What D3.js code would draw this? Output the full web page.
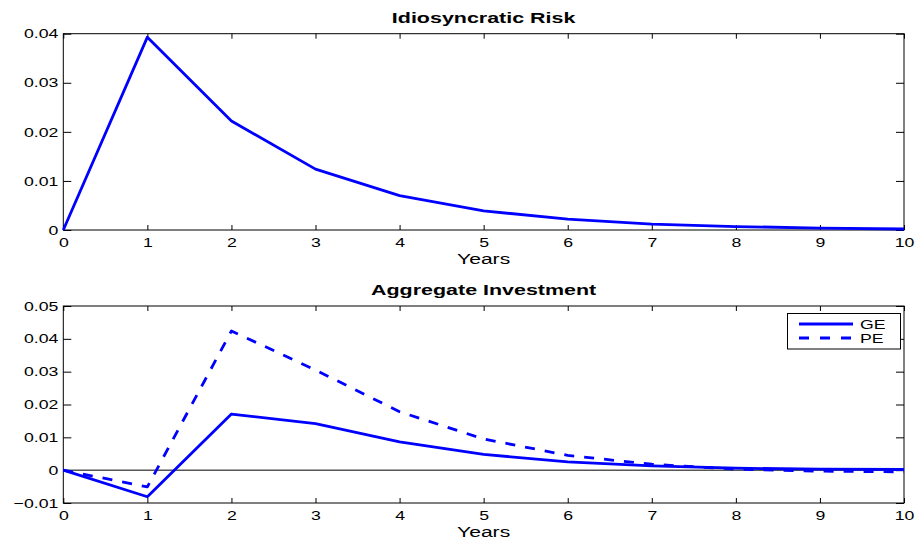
<!DOCTYPE html>
<html>
<head>
<meta charset="utf-8">
<script src="https://cdn.jsdelivr.net/npm/d3@7"></script>
<style>
  body { margin: 0; background: #fff; }
  svg { display: block; font-family: "Liberation Sans", Arial, sans-serif; }
</style>
</head>
<body>
<svg id="chart" width="916" height="539"></svg>
<script>
// data
var years = [0, 1, 2, 3, 4, 5, 6, 7, 8, 9, 10];
var idioRisk = [0, 0.0393, 0.0222, 0.0124, 0.0070, 0.0039, 0.0022, 0.0012, 0.0007, 0.0004, 0.0002];
var investGE = [0, -0.0081, 0.0171, 0.0142, 0.0086, 0.0048, 0.0025, 0.0013, 0.0006, 0.0003, 0.0002];
var investPE = [0, -0.0051, 0.0424, 0.0305, 0.0178, 0.0095, 0.0045, 0.0018, 0.0003, -0.0003, -0.0005];
var topTicks = [0, 0.01, 0.02, 0.03, 0.04];
var bottomTicks = [-0.01, 0, 0.01, 0.02, 0.03, 0.04, 0.05];
var legendNames = ["GE", "PE"];

var svg = d3.select("#chart");
var SX = 1.36;   // picture is stretched horizontally
var BLUE = "#0000ff";

function fmt(d) {
	if (d === 0) return "0";
	return d3.format(".2f")(d);
}

// one matlab style panel
function panel(opt) {
	var g = svg.append("g");
	var x = d3.scaleLinear().domain([0, 10]).range([63.3, 904]);
	var y = d3.scaleLinear().domain(opt.yDomain).range([opt.bottom, opt.top]);

	// bottom axis, ticks inward
	var xa = g.append("g")
		.attr("transform", "translate(0," + opt.bottom + ")")
		.call(d3.axisBottom(x).tickValues(years).tickSizeInner(-5).tickSizeOuter(0).tickPadding(0));
	xa.selectAll("text")
		.attr("y", 17.5)
		.attr("dy", null)
		.attr("transform", "scale(" + SX + ",1)");
	// top mirrored ticks
	g.append("g")
		.attr("transform", "translate(0," + opt.top + ")")
		.call(d3.axisTop(x).tickValues(years).tickSizeInner(-5).tickSizeOuter(0).tickFormat(""));

	var ya = g.append("g")
		.attr("transform", "translate(63.3,0)")
		.call(d3.axisLeft(y).tickValues(opt.ticks).tickFormat(fmt).tickSizeInner(-8).tickSizeOuter(0));
	ya.selectAll("text")
		.attr("x", -5 / SX)
		.attr("transform", "scale(" + SX + ",1)");
	g.append("g")
		.attr("transform", "translate(904,0)")
		.call(d3.axisRight(y).tickValues(opt.ticks).tickFormat("").tickSizeInner(-8).tickSizeOuter(0));

	g.selectAll(".domain").remove();
	g.selectAll(".tick line").attr("stroke", "#000");
	g.selectAll(".tick text")
		.attr("fill", "#000")
		.style("font-size", "13px")
		.style("font-family", "'Liberation Sans', Arial, sans-serif");

	g.append("rect")
		.attr("x", 63.3).attr("y", opt.top)
		.attr("width", 904 - 63.3).attr("height", opt.bottom - opt.top)
		.attr("fill", "none").attr("stroke", "#000").attr("stroke-width", 1);

	// title and x label
	g.append("text")
		.attr("transform", "translate(483.6," + (opt.top - 11) + ") scale(1.43,1)")
		.attr("text-anchor", "middle")
		.style("font-size", "15px").style("font-weight", "bold")
		.text(opt.title);
	g.append("text")
		.attr("transform", "translate(483.6," + (opt.bottom + 33.5) + ") scale(" + SX + ",1)")
		.attr("text-anchor", "middle")
		.style("font-size", "15.5px")
		.text("Years");

	return {g: g, x: x, y: y};
}

var topPanel = panel({top: 33.7, bottom: 230, yDomain: [0, 0.04], ticks: topTicks, title: "Idiosyncratic Risk"});
var botPanel = panel({top: 306, bottom: 503, yDomain: [-0.01, 0.05], ticks: bottomTicks, title: "Aggregate Investment"});

function drawLine(p, values, dash) {
	var line = d3.line()
		.x(function(d, i) { return p.x(years[i]); })
		.y(function(d) { return p.y(d); });
	p.g.append("path")
		.datum(values)
		.attr("d", line)
		.attr("fill", "none")
		.attr("stroke", BLUE)
		.attr("stroke-width", 2.8)
		.attr("stroke-linejoin", "round")
		.attr("stroke-dasharray", dash || null);
}

drawLine(topPanel, idioRisk);

// zero line
botPanel.g.append("line")
	.attr("x1", botPanel.x(0)).attr("x2", botPanel.x(10))
	.attr("y1", botPanel.y(0)).attr("y2", botPanel.y(0))
	.attr("stroke", "#000").attr("stroke-width", 1);
drawLine(botPanel, investGE);
drawLine(botPanel, investPE, "10,10");

// legend
var leg = botPanel.g.append("g");
leg.append("rect")
	.attr("x", 787.5).attr("y", 313.5).attr("width", 113).attr("height", 35.5)
	.attr("fill", "#fff").attr("stroke", "#000").attr("stroke-width", 1);
legendNames.forEach(function(name, i) {
	var yy = 324 + i * 14;
	leg.append("line")
		.attr("x1", 799).attr("x2", 853)
		.attr("y1", yy).attr("y2", yy)
		.attr("stroke", BLUE).attr("stroke-width", 2.8)
		.attr("stroke-dasharray", i === 1 ? "10,11" : null);
	leg.append("text")
		.attr("transform", "translate(860," + (yy + 4.5) + ") scale(" + SX + ",1)")
		.style("font-size", "13px")
		.text(name);
});
</script>
</body>
</html>
